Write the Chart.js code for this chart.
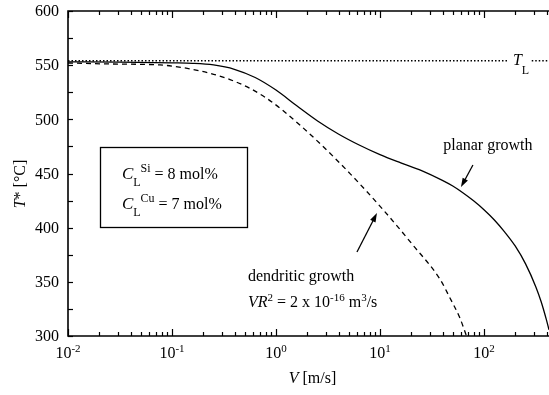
<!DOCTYPE html>
<html><head><meta charset="utf-8">
<script src="https://cdn.jsdelivr.net/npm/chart.js@4.4.0/dist/chart.umd.min.js"></script>
<style>html,body{margin:0;padding:0;background:#fff;overflow:hidden}</style>
</head><body>
<canvas id="c" width="549" height="395"></canvas>
<script>
// ---- data ----
const planarV = [0.01, 0.0316, 0.1, 0.158, 0.251, 0.398, 0.631, 1.0, 1.585, 2.512, 3.981, 6.31, 10, 15.85, 25.12, 39.81, 50.12, 63.1, 79.43, 100, 125.9, 158.5, 199.5, 251.2, 316.2, 354.8, 398.1, 422];
const planarT = [553, 552.8, 552.1, 551.7, 550.2, 546.2, 538.6, 527, 512.5, 498.5, 486.5, 476.3, 467.4, 459.8, 452.6, 443.6, 438.4, 432.0, 424.8, 416.6, 407.1, 395.9, 383.1, 366.6, 345.1, 331.6, 315.1, 305.8];
const dendriticV = [0.01, 0.0254, 0.0767, 0.133, 0.231, 0.361, 0.562, 0.802, 1.167, 2.46, 5.15, 10.69, 20.7, 37.8, 47.1, 58.7, 67.9];
const dendriticT = [552, 551.1, 550.2, 547.4, 542.5, 536.7, 528.6, 519.8, 508.1, 480.6, 449.9, 416.7, 384.0, 352.4, 335.1, 316.6, 300];
const liquidusT = 554;
const liquidusV = [0.01, 170, 288, 422];   // dotted line, broken around the T_L label
const xDecades = [0.01, 0.1, 1, 10, 100];
const xExponents = ['-2', '-1', '0', '1', '2'];
const yTicks = [300, 350, 400, 450, 500, 550, 600];
const yMinorStep = 25;

const SERIF = '"Liberation Serif", "Times New Roman", serif';
const F = (s, st) => (st ? st + ' ' : '') + s + 'px ' + SERIF;

function rich(ctx, x, y, parts, align) {
  let w = 0;
  parts.forEach(p => { ctx.font = p[1]; w += ctx.measureText(p[0]).width; });
  let cx = align === 'center' ? x - w / 2 : x;
  parts.forEach(p => {
    ctx.font = p[1];
    ctx.fillText(p[0], cx, y + (p[2] || 0));
    cx += ctx.measureText(p[0]).width;
  });
}
function arrow(ctx, x1, y1, x2, y2) {
  const ang = Math.atan2(y2 - y1, x2 - x1), L = 9, W = 3;
  ctx.beginPath(); ctx.moveTo(x1, y1);
  ctx.lineTo(x2 - Math.cos(ang) * L * 0.8, y2 - Math.sin(ang) * L * 0.8); ctx.stroke();
  ctx.beginPath();
  ctx.moveTo(x2, y2);
  ctx.lineTo(x2 - Math.cos(ang) * L + Math.sin(ang) * W, y2 - Math.sin(ang) * L - Math.cos(ang) * W);
  ctx.lineTo(x2 - Math.cos(ang) * L - Math.sin(ang) * W, y2 - Math.sin(ang) * L + Math.cos(ang) * W);
  ctx.closePath(); ctx.fill();
}

const framePlugin = {
  id: 'frame',
  afterDraw(chart) {
    const { ctx, chartArea: a, scales: { x, y } } = chart;
    const X = v => x.getPixelForValue(v), Y = v => y.getPixelForValue(v);
    ctx.save();
    ctx.strokeStyle = '#000'; ctx.fillStyle = '#000';
    // frame (left, top, bottom)
    ctx.lineWidth = 1.6;
    ctx.beginPath();
    ctx.moveTo(a.right + 1, a.top); ctx.lineTo(a.left, a.top);
    ctx.lineTo(a.left, a.bottom); ctx.lineTo(a.right + 1, a.bottom);
    ctx.stroke();
    // y ticks (inward)
    ctx.lineWidth = 1.2;
    for (let v = y.min; v <= y.max; v += yMinorStep) {
      const py = Math.round(Y(v)) + 0.5;
      ctx.beginPath(); ctx.moveTo(a.left, py); ctx.lineTo(a.left + 5, py); ctx.stroke();
    }
    // x ticks (inward, bottom & top)
    for (const d of xDecades) {
      for (let m = 1; m <= 9; m++) {
        const v = m * d;
        if (v > x.max) break;
        const px = Math.round(X(v)) + 0.5;
        const len = m === 1 ? 7 : 4;
        ctx.beginPath(); ctx.moveTo(px, a.bottom); ctx.lineTo(px, a.bottom - len); ctx.stroke();
        ctx.beginPath(); ctx.moveTo(px, a.top); ctx.lineTo(px, a.top + len); ctx.stroke();
      }
    }
    // y tick labels
    ctx.textBaseline = 'middle';
    ctx.textAlign = 'right';
    ctx.font = F(16);
    yTicks.forEach(v => ctx.fillText(String(v), a.left - 9, Y(v) + 1));
    // x tick labels
    ctx.textAlign = 'left';
    xDecades.forEach((d, i) => {
      rich(ctx, X(d), 354, [['10', F(16)], [xExponents[i], F(11), -5]], 'center');
    });
    // axis titles
    rich(ctx, (a.left + a.right) / 2 + 4, 379, [['V', F(16, 'italic')], [' [m/s]', F(16)]], 'center');
    ctx.save();
    ctx.translate(21, 184); ctx.rotate(-Math.PI / 2);
    rich(ctx, 0, 0, [['T', F(16, 'italic')], ['* [°C]', F(16)]], 'center');
    ctx.restore();

    // T_L label
    rich(ctx, X(190), Y(553.8), [['T', F(16, 'italic')], ['L', F(12), 10]]);

    // composition box
    ctx.lineWidth = 1.3;
    const bx1 = X(0.0203), bx2 = X(0.526), by1 = Y(474.5), by2 = Y(400.6);
    ctx.strokeRect(Math.round(bx1) + 0.5, Math.round(by1) + 0.5, Math.round(bx2 - bx1), Math.round(by2 - by1));
    rich(ctx, X(0.033), Y(448.6), [['C', F(17, 'italic')], ['L', F(12), 8], ['Si', F(12), -6], [' = 8 mol%', F(16)]]);
    rich(ctx, X(0.033), Y(420.9), [['C', F(17, 'italic')], ['L', F(12), 8], ['Cu', F(12), -6], [' = 7 mol%', F(16)]]);

    // planar growth annotation
    rich(ctx, X(109), Y(475.4), [['planar growth', F(16)]], 'center');
    ctx.lineWidth = 1.3;
    arrow(ctx, X(78.3), Y(457.8), X(60.1), Y(437.5));

    // dendritic growth annotation
    rich(ctx, X(0.538), Y(354.5), [['dendritic growth', F(16)]]);
    rich(ctx, X(0.538), Y(330.5), [['VR', F(16, 'italic')], ['2', F(11), -5], [' = 2 x 10', F(16)], ['-16', F(11), -5], [' m', F(16)], ['3', F(11), -5], ['/s', F(16)]]);
    arrow(ctx, X(6.01), Y(377.5), X(9.35), Y(413.5));
    ctx.restore();
  }
};

const pts = (xs, ys) => xs.map((v, i) => ({ x: v, y: ys[i] }));
const liquidusData = [
  { x: liquidusV[0], y: liquidusT }, { x: liquidusV[1], y: liquidusT },
  { x: 220, y: null },
  { x: liquidusV[2], y: liquidusT }, { x: liquidusV[3], y: liquidusT }
];

new Chart(document.getElementById('c').getContext('2d'), {
  type: 'line',
  data: {
    datasets: [
      { label: 'planar growth', data: pts(planarV, planarT), borderColor: '#000', borderWidth: 1.3,
        pointRadius: 0, cubicInterpolationMode: 'monotone', fill: false },
      { label: 'dendritic growth', data: pts(dendriticV, dendriticT), borderColor: '#000', borderWidth: 1.3,
        borderDash: [5, 4], pointRadius: 0, cubicInterpolationMode: 'monotone', fill: false },
      { label: 'T_L', data: liquidusData, borderColor: '#000', borderWidth: 1.5, borderDash: [1.5, 2],
        pointRadius: 0, spanGaps: false, fill: false }
    ]
  },
  options: {
    responsive: false, animation: false, devicePixelRatio: 1,
    layout: { padding: { left: 68, top: 11, right: 0, bottom: 59 } },
    plugins: { legend: { display: false }, tooltip: { enabled: false } },
    scales: {
      x: { type: 'logarithmic', min: 0.01, max: 422, display: false },
      y: { type: 'linear', min: 300, max: 600, display: false }
    }
  },
  plugins: [framePlugin]
});
</script>
</body></html>
